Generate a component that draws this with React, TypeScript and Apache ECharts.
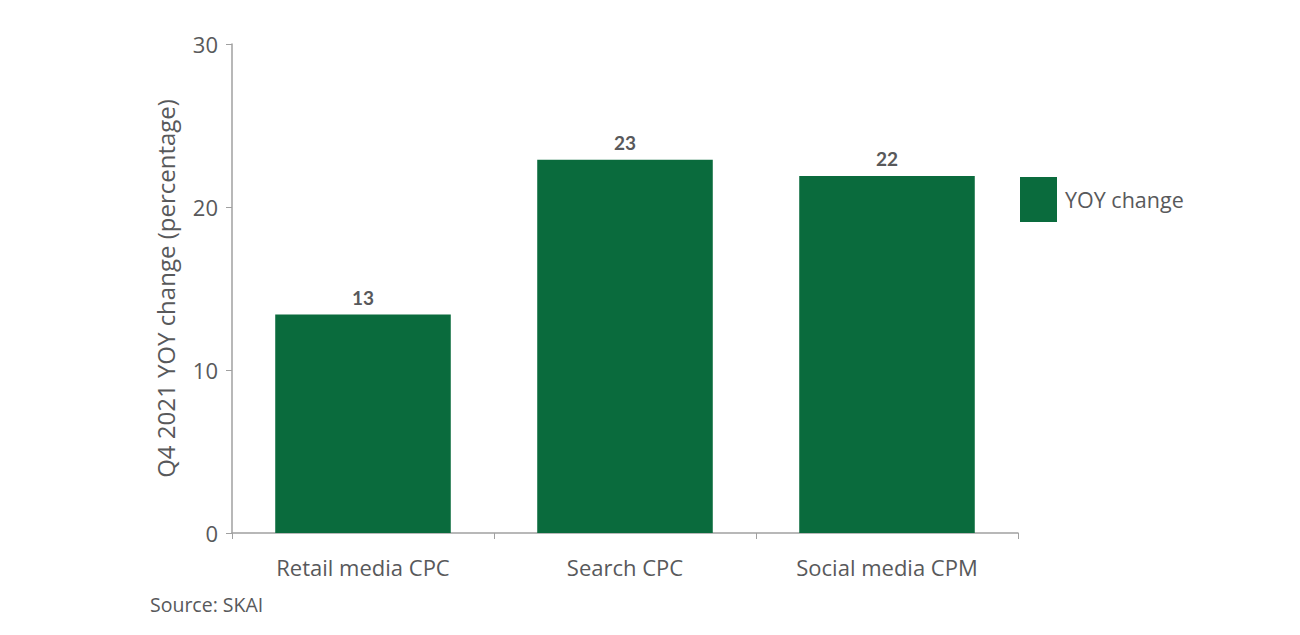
import { useEffect, useRef } from 'react';
import * as echarts from 'echarts';

const categories = ['Retail media CPC', 'Search CPC', 'Social media CPM'];
const yoyChange = [13.4, 22.9, 21.9];
const seriesName = 'YOY change';
const yAxisName = 'Q4 2021 YOY change (percentage)';
const sourceNote = 'Source: SKAI';

const GREEN = '#0a6b3d';
const TEXT = '#58595b';
const AXIS = '#a0a0a0';
const FONT = '"Open Sans", Lato, sans-serif';
const LABEL_FONT = 'Lato, "Open Sans", sans-serif';

export default function App() {
  const chartRef = useRef<HTMLDivElement>(null);

  useEffect(() => {
    if (!chartRef.current) return;
    const chart = echarts.init(chartRef.current, undefined, { renderer: 'svg' });

    const option: echarts.EChartsOption = {
      animation: false,
      backgroundColor: '#ffffff',
      textStyle: { fontFamily: FONT },
      grid: { left: 232, right: 282, top: 44, bottom: 102 },
      legend: {
        data: [{ name: seriesName, icon: 'rect' }],
        left: 1020,
        top: 177,
        padding: 0,
        itemWidth: 37,
        itemHeight: 45,
        itemGap: 8,
        textStyle: { fontSize: 21.5, color: TEXT, fontFamily: FONT, padding: [0, 0, 0, 3] },
      },
      xAxis: {
        type: 'category',
        data: categories,
        axisLine: { lineStyle: { color: AXIS, width: 1.5 } },
        axisTick: { show: true, length: 6, lineStyle: { color: AXIS } },
        axisLabel: { fontSize: 22, color: TEXT, margin: 23, fontFamily: FONT },
      },
      yAxis: {
        type: 'value',
        min: 0,
        max: 30,
        interval: 10,
        name: yAxisName,
        nameLocation: 'middle',
        nameGap: 55,
        nameTextStyle: { fontSize: 24, color: TEXT, fontFamily: FONT },
        axisLine: { show: true, lineStyle: { color: AXIS, width: 1.5 } },
        axisTick: { show: true, length: 6, lineStyle: { color: AXIS } },
        axisLabel: { fontSize: 22, color: TEXT, margin: 14, fontFamily: FONT },
        splitLine: { show: false },
      },
      series: [
        {
          name: seriesName,
          type: 'bar',
          data: yoyChange,
          barWidth: '67%',
          itemStyle: { color: GREEN },
          label: {
            show: true,
            position: 'top',
            distance: 8,
            fontSize: 19,
            fontWeight: 'bold',
            color: TEXT,
            fontFamily: LABEL_FONT,
            formatter: (p: any) => String(Math.round(p.value)),
          },
        },
      ],
      graphic: [
        {
          type: 'text',
          left: 150,
          top: 594,
          style: { text: sourceNote, fontSize: 19.5, fill: TEXT, fontFamily: FONT },
        },
      ],
    };

    chart.setOption(option);
    return () => chart.dispose();
  }, []);

  return (
    <div
      ref={chartRef}
      style={{ position: 'fixed', left: 0, top: 0, width: 1300, height: 635 }}
    />
  );
}
